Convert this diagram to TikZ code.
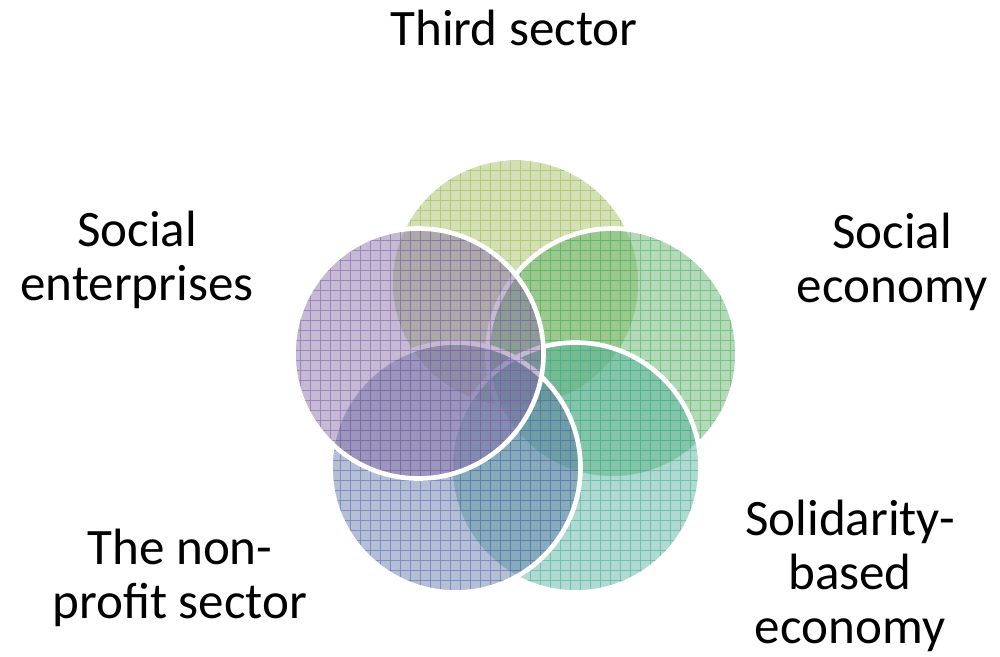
\documentclass[tikz,border=0pt]{standalone}
\usepackage{fontspec}
\setmainfont{Carlito}
\usepackage{xcolor}
\usepackage{tikz}

\definecolor{thirdgreen}{HTML}{9BBB59}
\definecolor{socialgreen}{HTML}{55AE62}
\definecolor{solidteal}{HTML}{4BAC98}
\definecolor{profitblue}{HTML}{5870A6}
\definecolor{enterpurple}{HTML}{8064A2}

\tikzset{
  sectorname/.style={align=center, anchor=base, font=\fontsize{38.3}{40.5}\selectfont},
  disc/.style={fill=#1, fill opacity=0.45},
  mesh/.style={draw=#1, draw opacity=0.6, line width=0.75pt},
  rim/.style={draw=white, line width=3.5pt},
}

\begin{document}
\begin{tikzpicture}[x=0.75pt, y=-0.75pt]
\useasboundingbox (0,0) rectangle (1000,657);

\begin{scope}
\clip (515.5,283) circle (93.75pt);
\fill[disc=thirdgreen] (515.5,283) circle (93.75pt);
\draw[mesh=thirdgreen] (0,660) grid[step=7.5pt] (1000,0);
\end{scope}
\draw[rim] (515.5,283) circle (93.75pt);

\begin{scope}
\clip (612.5,353.5) circle (93.75pt);
\fill[disc=socialgreen] (612.5,353.5) circle (93.75pt);
\draw[mesh=socialgreen] (0,660) grid[step=7.5pt] (1000,0);
\end{scope}
\draw[rim] (612.5,353.5) circle (93.75pt);

\begin{scope}
\clip (575.5,467.5) circle (93.75pt);
\fill[disc=solidteal] (575.5,467.5) circle (93.75pt);
\draw[mesh=solidteal] (0,660) grid[step=7.5pt] (1000,0);
\end{scope}
\draw[rim] (575.5,467.5) circle (93.75pt);

\begin{scope}
\clip (455.5,467.5) circle (93.75pt);
\fill[disc=profitblue] (455.5,467.5) circle (93.75pt);
\draw[mesh=profitblue] (0,660) grid[step=7.5pt] (1000,0);
\end{scope}
\draw[rim] (455.5,467.5) circle (93.75pt);

\begin{scope}
\clip (418.5,353.5) circle (93.75pt);
\fill[disc=enterpurple] (418.5,353.5) circle (93.75pt);
\draw[mesh=enterpurple] (0,660) grid[step=7.5pt] (1000,0);
\end{scope}
\draw[rim] (418.5,353.5) circle (93.75pt);

\node[sectorname] (third) at (514,45) {Third sector};
\node[sectorname] (economy) at (892,302) {Social\\economy};
\node[sectorname] (solidarity) at (850,643) {Solidarity-\\based\\economy};
\node[sectorname] (nonprofit) at (180,618) {The non-\\profit sector};
\node[sectorname] (enterprises) at (137,300) {Social\\enterprises};
\end{tikzpicture}
\end{document}
